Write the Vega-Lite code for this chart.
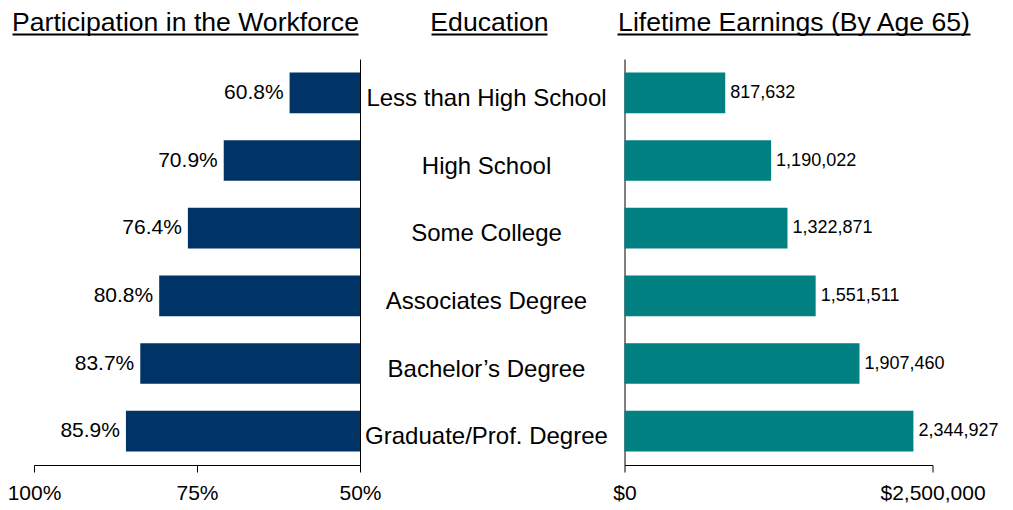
{
  "$schema": "https://vega.github.io/schema/vega-lite/v6.json",
  "autosize": {"type": "pad"},
  "padding": {"left": 7, "top": 9, "right": 5, "bottom": 5},
  "background": "white",
  "data": {"values": [
    {"edu": "Less than High School", "part": 0.608, "earn": 817632},
    {"edu": "High School", "part": 0.709, "earn": 1190022},
    {"edu": "Some College", "part": 0.764, "earn": 1322871},
    {"edu": "Associates Degree", "part": 0.808, "earn": 1551511},
    {"edu": "Bachelor’s Degree", "part": 0.837, "earn": 1907460},
    {"edu": "Graduate/Prof. Degree", "part": 0.859, "earn": 2344927}
  ]},
  "spacing": 264.5,
  "bounds": "flush",
  "config": {
    "view": {"stroke": null},
    "font": "Liberation Sans",
    "axis": {"grid": false, "domainColor": "#000", "tickColor": "#000", "labelColor": "#000", "titleColor": "#000", "labelFont": "Liberation Sans", "titleFont": "Liberation Sans", "titleFontWeight": "normal", "domainWidth": 1, "tickWidth": 1}
  },
  "hconcat": [
    {
      "width": 326,
      "height": 406,
      "resolve": {"scale": {"x": "independent"}, "axis": {"x": "independent"}},
      "encoding": {
        "y": {"field": "edu", "type": "nominal", "sort": null,
          "scale": {"paddingInner": 0.4, "paddingOuter": 0.2},
          "axis": {"orient": "right", "labels": false, "ticks": false, "title": null}}
      },
      "layer": [
        {"mark": {"type": "bar", "color": "#003366"},
          "encoding": {
            "x": {"field": "part", "type": "quantitative",
              "scale": {"domain": [0.5, 1], "reverse": true, "nice": false, "zero": false},
              "axis": {"orient": "bottom", "values": [0.5, 0.75, 1], "format": ".0%", "title": null, "labelFontSize": 21, "tickSize": 7, "labelPadding": 10, "labelFlush": false, "labelOverlap": false}},
            "x2": {"datum": 0.5}
          }},
        {"mark": {"type": "text", "align": "right", "baseline": "middle", "dx": -6, "fontSize": 21, "color": "#000"},
          "encoding": {
            "x": {"field": "part", "type": "quantitative", "scale": {"domain": [0.5, 1], "reverse": true, "nice": false, "zero": false}, "axis": null},
            "text": {"field": "part", "type": "quantitative", "format": ".1%"}
          }},
        {"mark": {"type": "rule", "strokeOpacity": 0},
          "encoding": {
            "x": {"datum": 0, "type": "quantitative",
              "scale": {"domain": [0, 1], "range": [-22, 324], "nice": false, "zero": false},
              "axis": {"orient": "top", "offset": 25, "labels": false, "ticks": false, "domain": true, "domainWidth": 2,
                "title": "Participation in the Workforce", "titleFontSize": 26.6, "titleX": 151, "titleY": -3.5, "titleAlign": "center", "titleBaseline": "alphabetic", "titleAngle": 0}}
          }}
      ]
    },
    {
      "width": 308,
      "height": 406,
      "resolve": {"scale": {"x": "independent"}, "axis": {"x": "independent"}},
      "encoding": {
        "y": {"field": "edu", "type": "nominal", "sort": null,
          "scale": {"paddingInner": 0.4, "paddingOuter": 0.2},
          "axis": {"orient": "left", "ticks": false, "tickSize": 0, "labelAlign": "center", "labelPadding": 138.5, "labelFontSize": 24, "labelOffset": 6, "labelBaseline": "middle", "labelLimit": 400, "title": null}}
      },
      "layer": [
        {"mark": {"type": "bar", "color": "#008080"},
          "encoding": {
            "x": {"field": "earn", "type": "quantitative",
              "scale": {"domain": [0, 2500000], "nice": false},
              "axis": {"orient": "bottom", "values": [0, 2500000], "format": "$,.0f", "labelFontSize": 21, "tickSize": 7, "labelPadding": 10, "labelFlush": false, "labelOverlap": false, "title": null}}
          }},
        {"mark": {"type": "text", "align": "left", "baseline": "middle", "dx": 5, "fontSize": 18, "color": "#000"},
          "encoding": {
            "x": {"field": "earn", "type": "quantitative", "scale": {"domain": [0, 2500000], "nice": false}, "axis": null},
            "text": {"field": "earn", "type": "quantitative", "format": ","}
          }},
        {"mark": {"type": "rule", "strokeOpacity": 0},
          "encoding": {
            "x": {"datum": 0, "type": "quantitative",
              "scale": {"domain": [0, 1], "range": [-193.5, -77.5], "nice": false, "zero": false},
              "axis": {"orient": "top", "offset": 25, "labels": false, "ticks": false, "domain": true, "domainWidth": 2,
                "title": "Education", "titleFontSize": 26.6, "titleX": -135.5, "titleY": -3.5, "titleAlign": "center", "titleBaseline": "alphabetic", "titleAngle": 0}}
          }},
        {"mark": {"type": "rule", "strokeOpacity": 0},
          "encoding": {
            "x": {"datum": 0, "type": "quantitative",
              "scale": {"domain": [0, 1], "range": [-7.5, 345.5], "nice": false, "zero": false},
              "axis": {"orient": "top", "offset": 25, "labels": false, "ticks": false, "domain": true, "domainWidth": 2,
                "title": "Lifetime Earnings (By Age 65)", "titleFontSize": 26.6, "titleX": 169, "titleY": -3.5, "titleAlign": "center", "titleBaseline": "alphabetic", "titleAngle": 0}}
          }}
      ]
    }
  ]
}
